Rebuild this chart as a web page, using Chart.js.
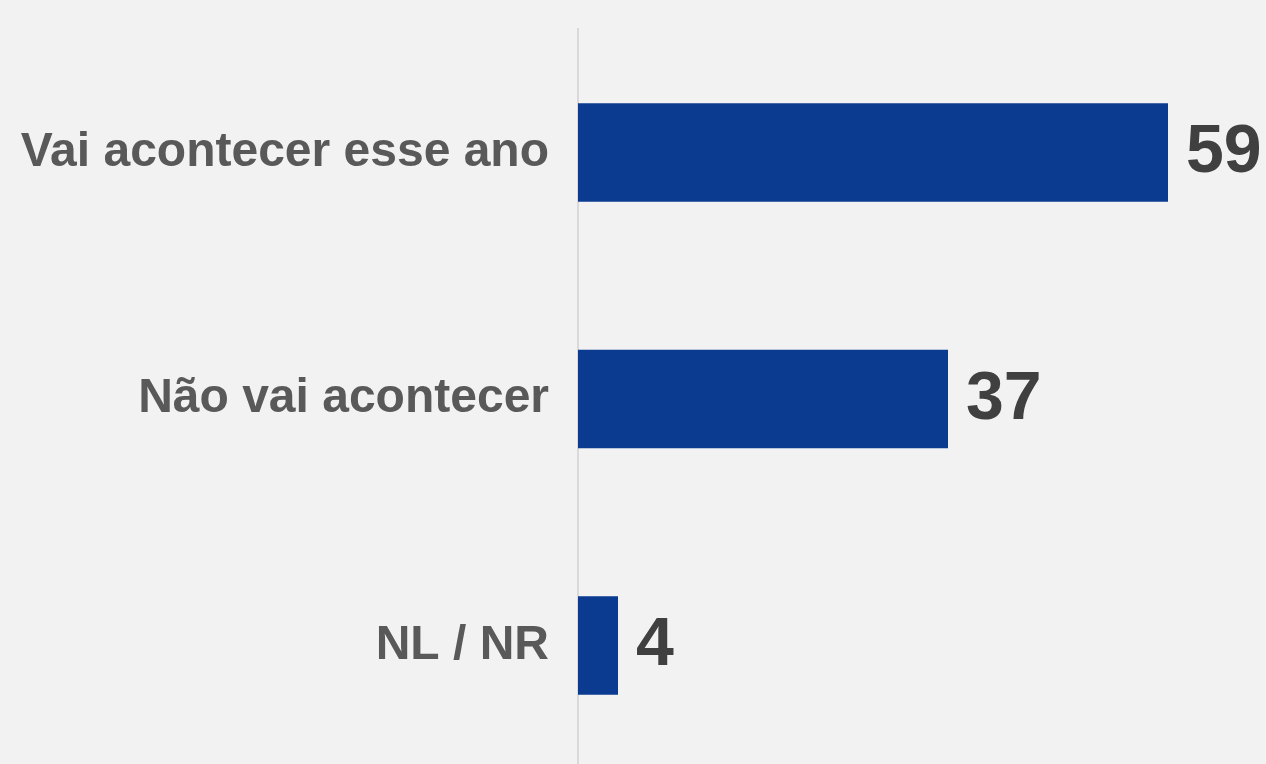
<!DOCTYPE html>
<html>
<head>
<meta charset="utf-8">
<script src="https://cdn.jsdelivr.net/npm/chart.js@4"></script>
<style>
  html, body { margin: 0; padding: 0; background: #f2f2f2; overflow: hidden; }
  #wrap { width: 1266px; height: 798px; }
</style>
</head>
<body>
<div id="wrap"><canvas id="c" width="1266" height="798"></canvas></div>
<script>
// Survey answers and their percentages
const categories = ['Vai acontecer esse ano', 'Não vai acontecer', 'NL / NR'];
const values = [59, 37, 4];

// Writes each bar's value just past its end
const valueLabels = {
  id: 'valueLabels',
  afterDatasetsDraw(chart) {
    const ctx = chart.ctx;
    const meta = chart.getDatasetMeta(0);
    ctx.save();
    ctx.font = 'bold 68px "Liberation Sans", Arial, sans-serif';
    ctx.fillStyle = '#404040';
    ctx.textAlign = 'left';
    ctx.textBaseline = 'middle';
    meta.data.forEach((bar, i) => {
      ctx.fillText(String(values[i]), bar.x + 18, bar.y + 1);
    });
    ctx.restore();
  }
};

new Chart(document.getElementById('c'), {
  type: 'bar',
  data: {
    labels: categories,
    datasets: [{
      data: values,
      backgroundColor: '#0b3a91',
      borderWidth: 0,
      barPercentage: 0.4,
      categoryPercentage: 1
    }]
  },
  options: {
    indexAxis: 'y',
    responsive: false,
    animation: false,
    layout: { padding: 0 },
    plugins: { legend: { display: false }, tooltip: { enabled: false } },
    scales: {
      x: { display: false, min: 0, max: 68.8 },
      y: {
        afterFit(scale) { scale.width = 578; },
        grid: { display: false, drawTicks: false },
        border: { display: true, color: '#d9d9d9', width: 2 },
        ticks: {
          padding: 29,
          color: '#595959',
          // single-line labels: a tiny line height keeps the axis from reserving extra space above/below
          font: { family: '"Liberation Sans", Arial, sans-serif', size: 48, weight: 'bold', lineHeight: 0.01 }
        }
      }
    }
  },
  plugins: [valueLabels]
});
</script>
</body>
</html>
